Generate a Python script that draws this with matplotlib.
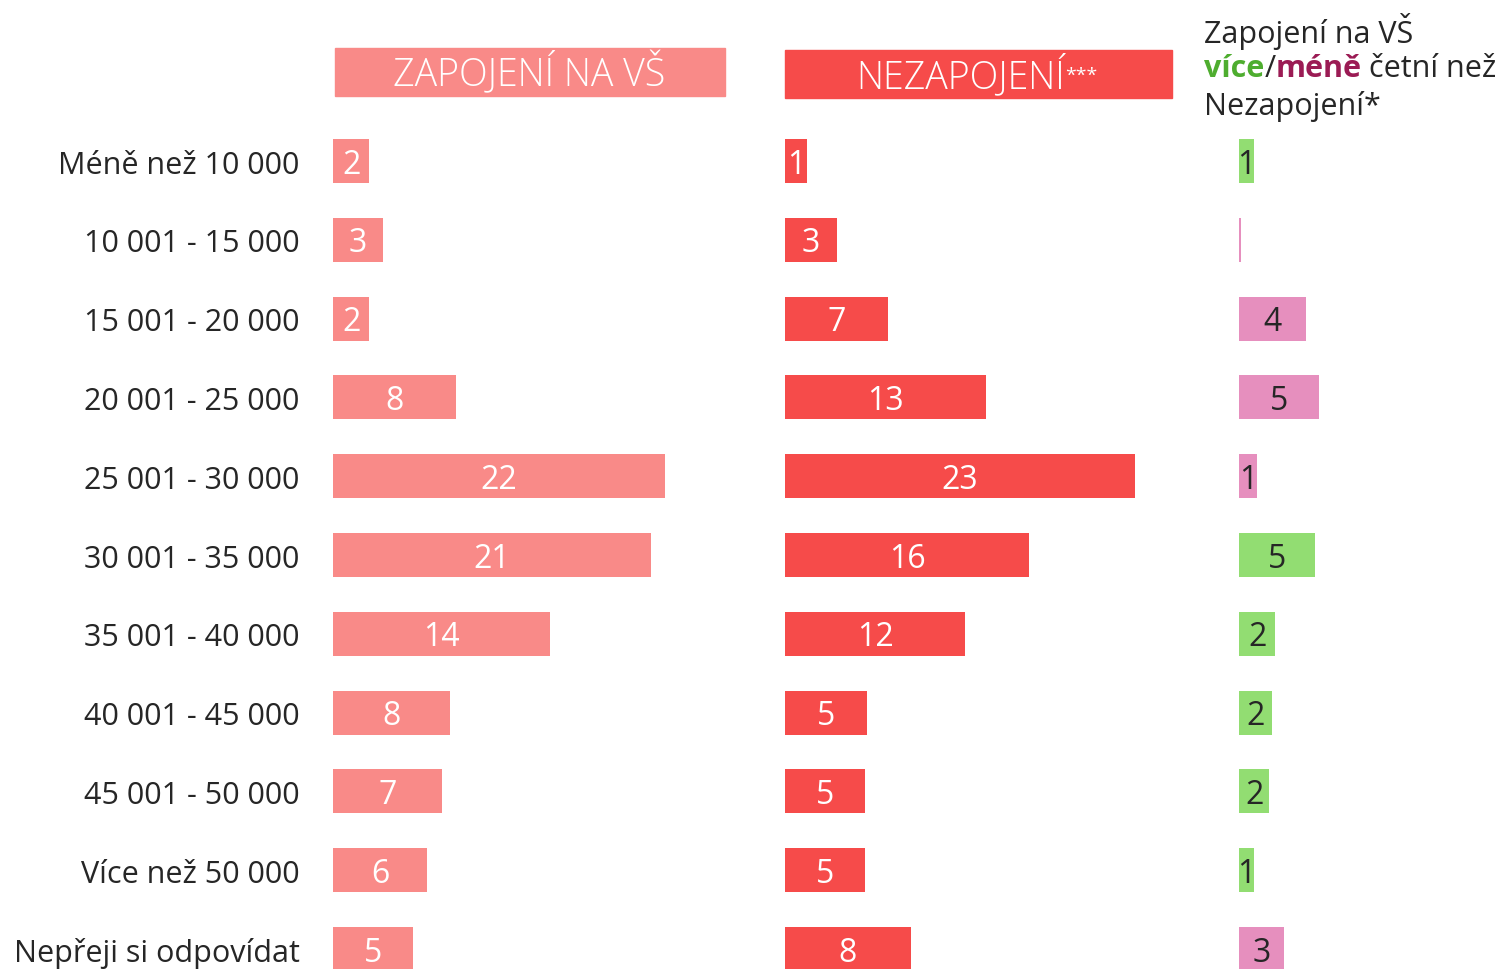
import matplotlib.pyplot as plt
from matplotlib.patches import Rectangle

plt.rcParams['font.family'] = ['Open Sans', 'DejaVu Sans']

categories = ['Méně než 10 000', '10 001 - 15 000', '15 001 - 20 000', '20 001 - 25 000',
              '25 001 - 30 000', '30 001 - 35 000', '35 001 - 40 000', '40 001 - 45 000',
              '45 001 - 50 000', 'Více než 50 000', 'Nepřeji si odpovídat']
zapojeni = [2.4, 3.3, 2.4, 8.1, 21.9, 21.0, 14.3, 7.7, 7.2, 6.2, 5.3]
nezapojeni = [1.45, 3.4, 6.8, 13.3, 23.1, 16.1, 11.9, 5.4, 5.3, 5.3, 8.3]
rozdil = [1.0, -0.1, -4.4, -5.3, -1.2, 5.0, 2.4, 2.2, 2.0, 1.0, -3.0]

c_zap = '#F98A88'
c_nez = '#F64B4A'
c_vice = '#92DD72'
c_mene = '#E68FBE'
c_text = '#262626'

W, H = 1498, 970
fig = plt.figure(figsize=(W / 100, H / 100), dpi=100)

pxu = 15.15      # pixels per percent
row0, rowh = 162, 78.8
ylim = ((H - row0) / rowh, -row0 / rowh)


def make_ax(left_px, width_px):
    ax = fig.add_axes([left_px / W, 0, width_px / W, 1])
    ax.set_xlim(0, width_px / pxu)
    ax.set_ylim(*ylim)
    for s in ax.spines.values():
        s.set_visible(False)
    ax.set_xticks([])
    ax.set_yticks([])
    ax.patch.set_alpha(0)
    return ax


ypos = list(range(len(categories)))
fs = 22
fsn = 23

ax1 = make_ax(333, 420)
ax1.barh(ypos, zapojeni, height=0.56, color=c_zap)
for y, v in zip(ypos, zapojeni):
    ax1.text(v / 2, y + 0.04, f'{v:.0f}', ha='center', va='center', color='white', fontsize=fsn)
ax1.set_yticks(ypos)
ax1.set_yticklabels(categories, fontsize=fs, color=c_text)
ax1.tick_params(axis='y', length=0, pad=24)

ax2 = make_ax(785, 420)
ax2.barh(ypos, nezapojeni, height=0.56, color=c_nez)
for y, v in zip(ypos, nezapojeni):
    ax2.text(v / 2, y + 0.04, f'{v:.0f}', ha='center', va='center', color='white', fontsize=fsn)

ax3 = make_ax(1239, 250)
cols = [c_vice if d > 0 else c_mene for d in rozdil]
vals = [abs(d) for d in rozdil]
ax3.barh(ypos, vals, height=0.56, color=cols)
for y, v in zip(ypos, vals):
    if round(v) > 0:
        ax3.text(v / 2, y + 0.04, f'{v:.0f}', ha='center', va='center', color=c_text, fontsize=fsn)

# header boxes
for (x0, x1, y0, y1, col) in [(335, 725, 49, 97, c_zap), (785, 1172, 51, 99, c_nez)]:
    fig.patches.append(Rectangle((x0 / W, 1 - y1 / H), (x1 - x0) / W, (y1 - y0) / H,
                                 transform=fig.transFigure, color=col, zorder=-1))
fig.text(529 / W, 1 - 74 / H, 'ZAPOJENÍ NA VŠ', ha='center', va='center',
         color='white', fontsize=27, fontweight='light')
t2 = fig.text(961 / W, 1 - 76 / H, 'NEZAPOJENÍ', ha='center', va='center',
              color='white', fontsize=27, fontweight='light')
ax3.annotate('***', xy=(1, 0.5), xycoords=t2, ha='left', va='center', color='white', fontsize=14)

# right header
fig.text(1204 / W, 1 - 31 / H, 'Zapojení na VŠ', ha='left', va='center', color=c_text, fontsize=fs)
a = fig.text(1204 / W, 1 - 69 / H, 'více', ha='left', va='center', color='#4EAD2F',
             fontsize=fs, fontweight='bold')
b = ax3.annotate('/', xy=(1, 0.5), xycoords=a, va='center', ha='left', color=c_text, fontsize=fs)
c = ax3.annotate('méně', xy=(1, 0.5), xycoords=b, va='center', ha='left', color='#9B1B54',
                 fontsize=fs, fontweight='bold')
ax3.annotate(' četní než', xy=(1, 0.5), xycoords=c, va='center', ha='left', color=c_text, fontsize=fs)
fig.text(1204 / W, 1 - 106 / H, 'Nezapojení*', ha='left', va='center', color=c_text, fontsize=fs)

fig.savefig('out.png', dpi=100)
